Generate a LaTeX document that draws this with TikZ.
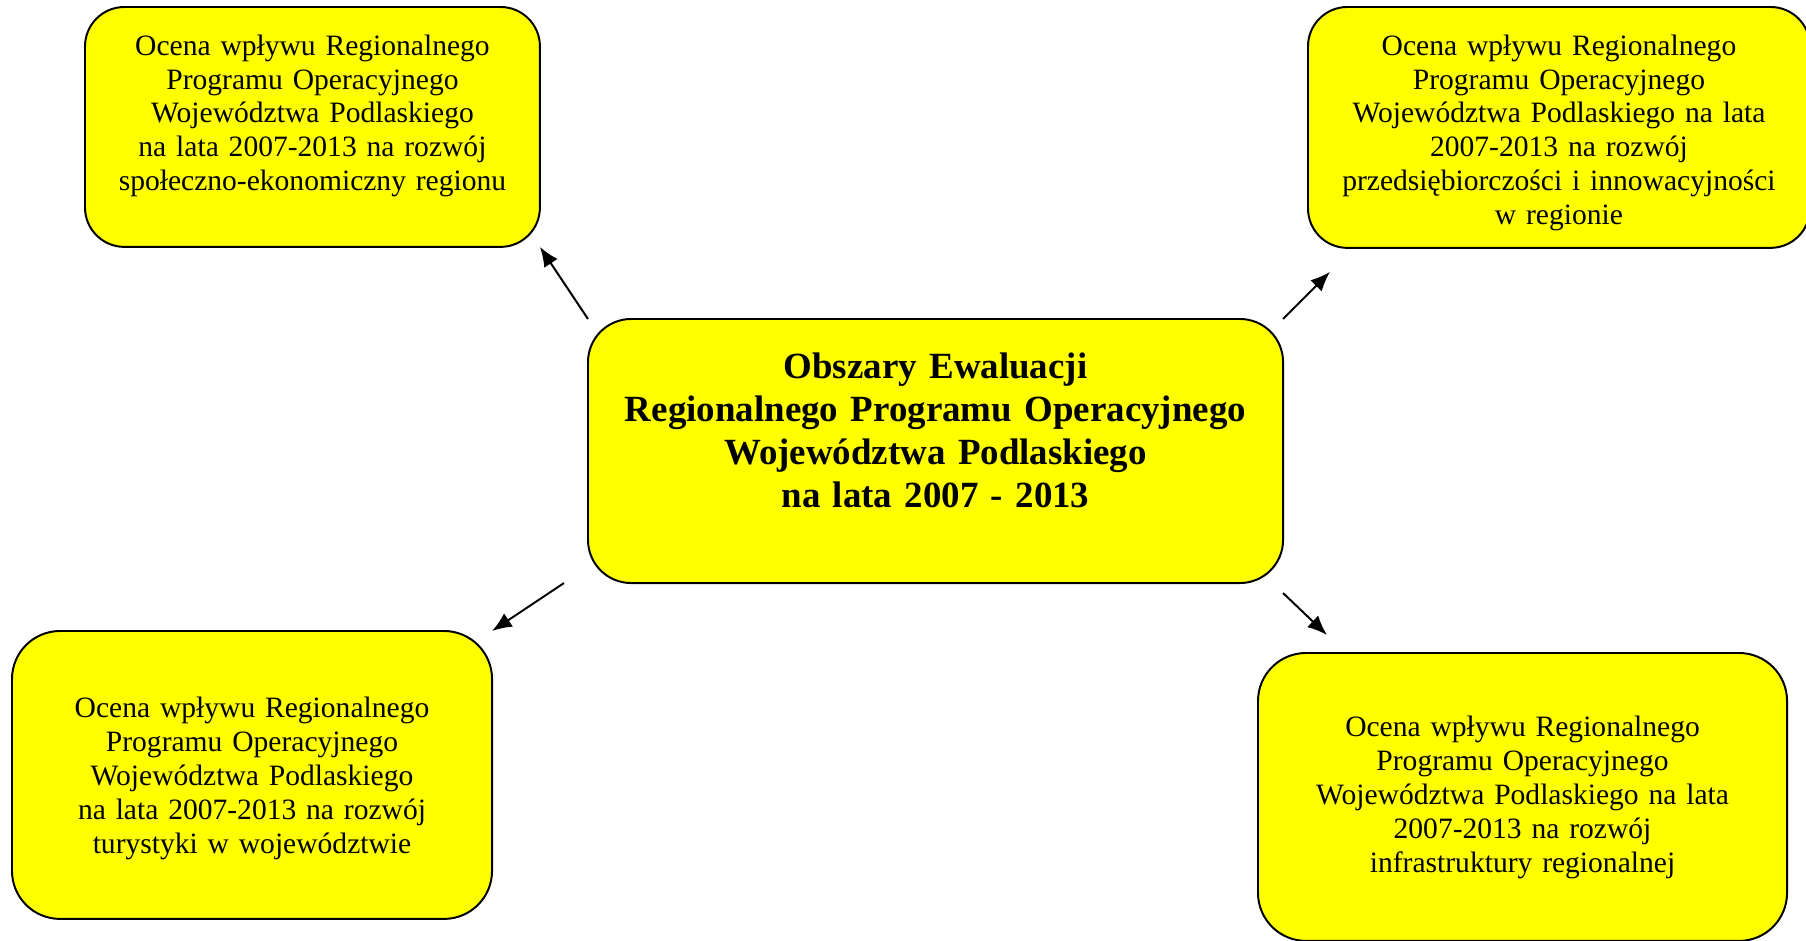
\documentclass[tikz,border=0pt]{standalone}
\usepackage{fontspec}
\setmainfont{Liberation Serif}
\usetikzlibrary{positioning, arrows.meta, calc}

\definecolor{zolty}{RGB}{255,255,0}

\tikzset{
    pole/.style={draw=black, fill=zolty, line width=0.8pt, outer sep=0pt,
        inner sep=0pt, align=center, anchor=north west,
        font=\fontsize{12pt}{13.8pt}\selectfont},
    glowny/.style={pole, font=\fontsize{15pt}{17.5pt}\selectfont\bfseries},
    pil/.style={black, line width=0.8pt, -{Latex[length=8pt,width=6.5pt]}}
}

\begin{document}
\begin{tikzpicture}[x=0.406pt, y=-0.406pt]
    \useasboundingbox (0,0) rectangle (1806,941);

    % main box
    \node[glowny, text width=282.2pt, text height=24pt, text depth=83.2pt,
        rounded corners=17.5pt] (hub) at (588,319)
        {Obszary Ewaluacji\\Regionalnego Programu Operacyjnego\\Województwa Podlaskiego\\na lata 2007 - 2013};

    % areas
    \node[pole, text width=184.7pt, text height=19.5pt, text depth=77.9pt,
        rounded corners=16pt] (spol) at (85,7)
        {Ocena wpływu Regionalnego\\Programu Operacyjnego\\Województwa Podlaskiego\\na lata 2007-2013 na rozwój\\społeczno-ekonomiczny regionu};

    \node[pole, text width=203.8pt, text height=19.5pt, text depth=78.3pt,
        rounded corners=16pt] (przed) at (1308,7)
        {Ocena wpływu Regionalnego\\Programu Operacyjnego\\Województwa Podlaskiego na lata\\2007-2013 na rozwój\\przedsiębiorczości i innowacyjności\\w regionie};

    \node[pole, text width=194.9pt, text height=35.3pt, text depth=81.6pt,
        rounded corners=19.5pt] (tur) at (12,631)
        {Ocena wpływu Regionalnego\\Programu Operacyjnego\\Województwa Podlaskiego\\na lata 2007-2013 na rozwój\\turystyki w województwie};

    \node[pole, text width=214.8pt, text height=34.1pt, text depth=82.8pt,
        rounded corners=19.5pt] (infra) at (1258,653)
        {Ocena wpływu Regionalnego\\Programu Operacyjnego\\Województwa Podlaskiego na lata\\2007-2013 na rozwój\\infrastruktury regionalnej};

    % arrow ends
    \coordinate (p2) at ($(przed.south west)+(22,24)$);
    \coordinate (s3) at ($(hub.south west)+(-24,0)$);
    \coordinate (s4) at ($(hub.south east)+(0,10)$);
    \coordinate (p4) at ($(infra.north west)+(69,-18)$);

    % arrows
    \foreach \start/\end in {
        hub.north west/spol.south east,
        hub.north east/p2,
        s3/tur.north east,
        s4/p4}
    {
        \draw[pil] (\start) -- (\end);
    }
\end{tikzpicture}
\end{document}
